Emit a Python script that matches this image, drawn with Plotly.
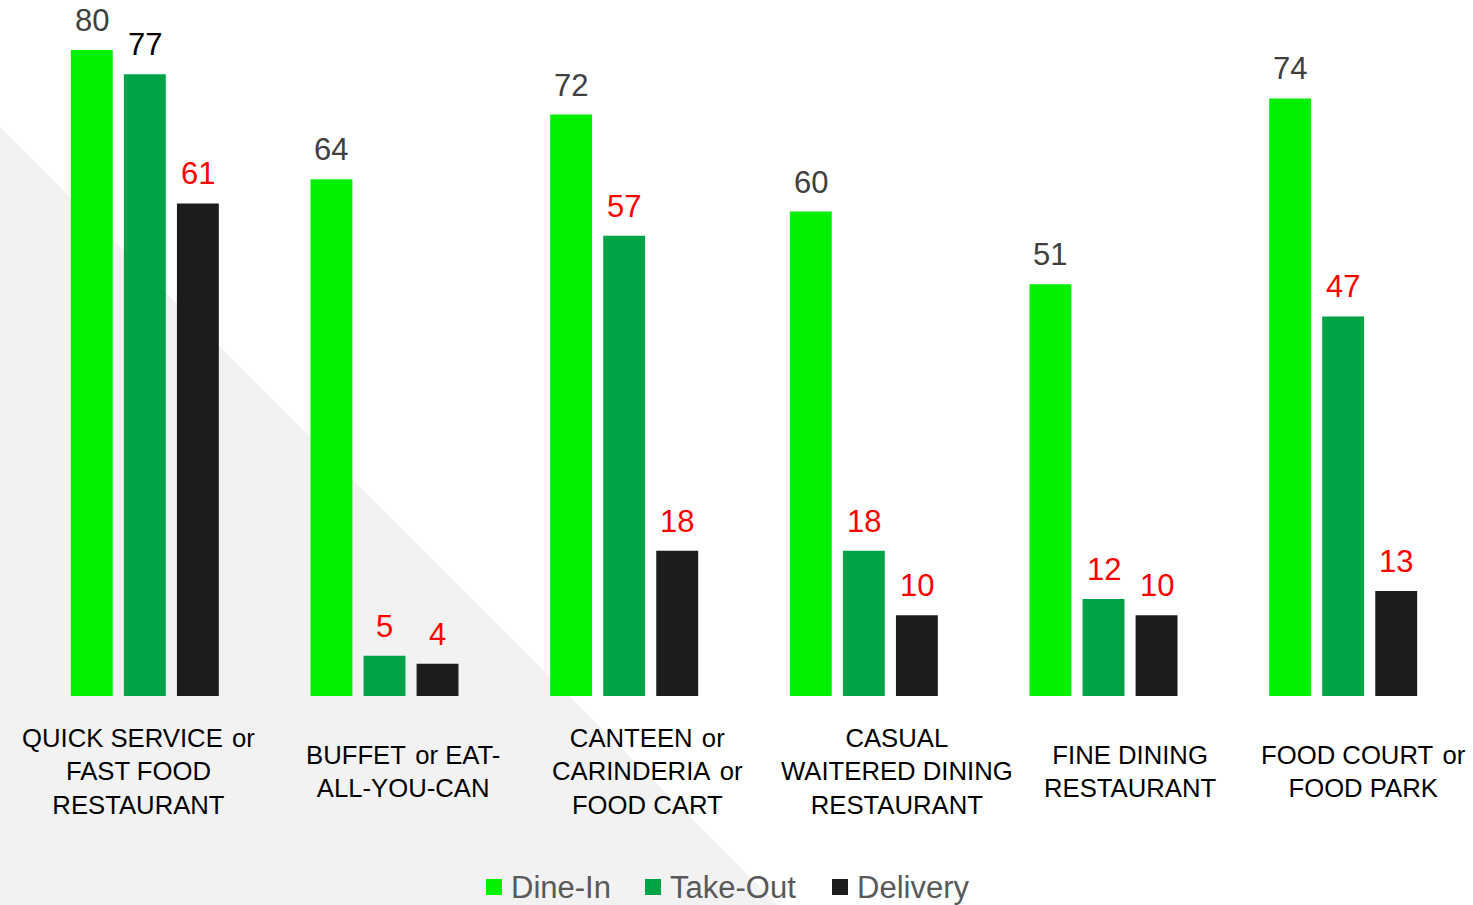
import plotly.graph_objects as go

# Restaurant formats and share of respondents per service mode
categories = [
    "QUICK SERVICE or FAST FOOD RESTAURANT",
    "BUFFET or EAT-ALL-YOU-CAN",
    "CANTEEN or CARINDERIA or FOOD CART",
    "CASUAL WAITERED DINING RESTAURANT",
    "FINE DINING RESTAURANT",
    "FOOD COURT or FOOD PARK",
]
SP = "\u200a "  # slightly widened word gap before "or"
category_lines = [
    f"QUICK SERVICE{SP}or<br>FAST FOOD<br>RESTAURANT",
    f"BUFFET{SP}or EAT-<br>ALL-YOU-CAN",
    f"CANTEEN{SP}or<br>CARINDERIA{SP}or<br>FOOD CART",
    "CASUAL<br>WAITERED DINING<br>RESTAURANT",
    "FINE DINING<br>RESTAURANT",
    f"FOOD COURT{SP}or<br>FOOD PARK",
]
series_names = ["Dine-In", "Take-Out", "Delivery"]
dine_in = [80, 64, 72, 60, 51, 74]
take_out = [77, 5, 57, 18, 12, 47]
delivery = [61, 4, 18, 10, 10, 13]

bar_colors = ["#00F000", "#00A345", "#1C1C1C"]
value_colors = [
    ["#404040"] * 6,
    ["#000000", "#FF0000", "#FF0000", "#FF0000", "#FF0000", "#FF0000"],
    ["#FF0000"] * 6,
]
label_xshift = [-6, 18, 23, 33, 27, 20]

W, H = 1473, 905
ML, MR, MT, MB = 25, 10, 50, 209
PW, PH = W - ML - MR, H - MT - MB
BARGAP, BARGROUPGAP = 0.336, 0.21
FONT = "Liberation Sans, Arial, sans-serif"


def px_to_paper(x, y):
    return (x - ML) / PW, (H - MB - y) / PH


fig = go.Figure()
for name, vals, col in zip(series_names, [dine_in, take_out, delivery], bar_colors):
    fig.add_trace(go.Bar(
        name=name, x=categories, y=vals, marker=dict(color=col, line=dict(width=0)),
        showlegend=False,
    ))

# value labels above each bar, offset within the group
slot = PW / len(categories) * (1 - BARGAP) / 3
for s, vals in enumerate([dine_in, take_out, delivery]):
    for i, v in enumerate(vals):
        fig.add_annotation(
            x=categories[i], y=v, text=str(v), showarrow=False,
            xanchor="center", yanchor="bottom", xshift=(s - 1) * slot, yshift=10,
            font=dict(family=FONT, size=31, color=value_colors[s][i]),
        )

# category labels beneath the groups
for i, txt in enumerate(category_lines):
    fig.add_annotation(
        x=categories[i], y=px_to_paper(0, 771)[1], yref="paper", text=txt,
        showarrow=False, xanchor="center", yanchor="middle", xshift=label_xshift[i],
        align="center", font=dict(family=FONT, size=25.7, color="#000000"),
    )

# light grey diagonal backdrop
pts = [px_to_paper(0, 127), px_to_paper(778, 905), px_to_paper(0, 905)]
path = "M {} {} L {} {} L {} {} Z".format(*[c for p in pts for c in p])
fig.add_shape(type="path", path=path, xref="paper", yref="paper",
              fillcolor="#F2F2F2", line=dict(width=0), layer="below")

# legend: coloured squares with series names
legend_left = [486, 645, 832]
for name, col, x0 in zip(series_names, bar_colors, legend_left):
    a0, b0 = px_to_paper(x0, 895)
    a1, b1 = px_to_paper(x0 + 16, 879)
    fig.add_shape(type="rect", xref="paper", yref="paper", x0=a0, y0=b0, x1=a1, y1=b1,
                  fillcolor=col, line=dict(width=0))
    tx, ty = px_to_paper(x0 + 23, 887)
    fig.add_annotation(x=tx, y=ty, xref="paper", yref="paper", text=name,
                       showarrow=False, xanchor="left", yanchor="middle",
                       font=dict(family=FONT, size=31, color="#595959"))

fig.update_layout(
    width=W, height=H,
    margin=dict(l=ML, r=MR, t=MT, b=MB, pad=0, autoexpand=False),
    paper_bgcolor="#FFFFFF", plot_bgcolor="rgba(0,0,0,0)",
    barmode="group", bargap=BARGAP, bargroupgap=BARGROUPGAP,
    xaxis=dict(range=[-0.5, len(categories) - 0.5], autorange=False,
               showticklabels=False, showgrid=False, zeroline=False, showline=False,
               ticks=""),
    yaxis=dict(range=[0, 80], visible=False, showgrid=False, zeroline=False),
    showlegend=False,
    font=dict(family=FONT),
)

fig.write_html("out.html")
